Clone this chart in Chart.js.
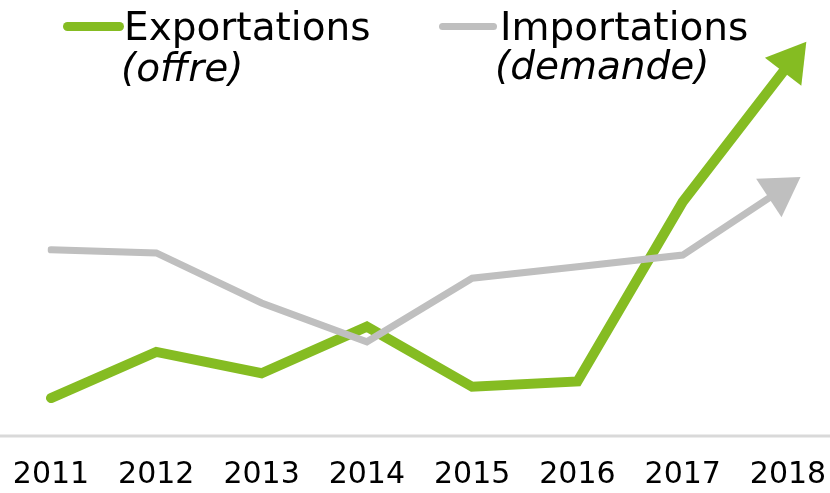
<!DOCTYPE html>
<html>
<head>
<meta charset="utf-8">
<script src="https://cdn.jsdelivr.net/npm/chart.js@4"></script>
<style>
  html, body { margin: 0; padding: 0; background: #fff; }
  #wrap { position: relative; width: 830px; height: 493px; font-family: "DejaVu Sans", sans-serif; }
  canvas { position: absolute; left: 0; top: 0; }
  .leg { position: absolute; font-size: 39px; line-height: 40px; color: #000; white-space: nowrap; }
  .leg i { font-style: italic; }
  .swatch { position: absolute; border-radius: 5px; }
</style>
</head>
<body>
<div id="wrap">
  <canvas id="chart" width="830" height="493"></canvas>
  <div class="swatch" style="left:63px;top:22px;width:61px;height:9px;background:#85BC22"></div>
  <div class="leg" style="left:124px;top:7px">Exportations</div>
  <div class="leg" style="left:121px;top:48px"><i>(offre)</i></div>
  <div class="swatch" style="left:439px;top:23px;width:58px;height:7px;background:#BFBFBF"></div>
  <div class="leg" style="left:500px;top:7px">Importations</div>
  <div class="leg" style="left:495px;top:46px"><i>(demande)</i></div>
</div>
<script>
// donnees (echelle arbitraire 0-100)
const annees = ["2011", "2012", "2013", "2014", "2015", "2016", "2017", "2018"];
const exportations = [8.7, 19.3, 14.4, 25.1, 11.3, 12.5, 53.7, 85.0];
const importations = [42.7, 42.0, 30.5, 21.6, 36.2, 38.8, 41.5, 57.5];

const VERT = "#85BC22";
const GRIS = "#BFBFBF";

// fleche au bout de chaque serie + ligne de base
const flechePlugin = {
    id: "fleche",
    beforeDatasetsDraw(chart) {
        const { ctx, scales } = chart;
        const y0 = scales.y.getPixelForValue(0);
        ctx.save();
        ctx.strokeStyle = "#D9D9D9";
        ctx.lineWidth = 3;
        ctx.beginPath();
        ctx.moveTo(0, y0);
        ctx.lineTo(chart.width, y0);
        ctx.stroke();
        ctx.restore();
    },
    afterDatasetsDraw(chart) {
        const ctx = chart.ctx;
        chart.data.datasets.forEach((ds, i) => {
            const pts = chart.getDatasetMeta(i).data;
            const a = pts[pts.length - 2], b = pts[pts.length - 1];
            const ang = Math.atan2(b.y - a.y, b.x - a.x);
            const tipX = b.x + Math.cos(ang) * ds.tipExtend;
            const tipY = b.y + Math.sin(ang) * ds.tipExtend;
            const len = 38, half = 23;
            const bx = tipX - Math.cos(ang) * len;
            const by = tipY - Math.sin(ang) * len;
            ctx.save();
            ctx.fillStyle = ds.borderColor;
            ctx.beginPath();
            ctx.moveTo(tipX, tipY);
            ctx.lineTo(bx + Math.sin(ang) * half, by - Math.cos(ang) * half);
            ctx.lineTo(bx - Math.sin(ang) * half, by + Math.cos(ang) * half);
            ctx.closePath();
            ctx.fill();
            ctx.restore();
        });
    }
};

new Chart(document.getElementById("chart"), {
    type: "line",
    data: {
        labels: annees,
        datasets: [
            {
                label: "Importations (demande)",
                data: importations,
                borderColor: GRIS,
                borderWidth: 7,
                tipExtend: 15,
            },
            {
                label: "Exportations (offre)",
                data: exportations,
                borderColor: VERT,
                borderWidth: 10,
                tipExtend: 30,
            },
        ],
    },
    options: {
        responsive: false,
        animation: false,
        layout: {
            padding: { left: 51, right: 42, top: 0, bottom: 0 },
        },
        elements: {
            line: { tension: 0, borderCapStyle: "round", borderJoinStyle: "miter" },
            point: { radius: 0, hoverRadius: 0 },
        },
        plugins: {
            legend: { display: false },
            tooltip: { enabled: false },
        },
        scales: {
            x: {
                offset: false,
                grid: { display: false, drawTicks: false },
                border: { display: false },
                ticks: {
                    color: "#000",
                    padding: 21,
                    maxRotation: 0,
                    autoSkip: false,
                    font: { family: "DejaVu Sans", size: 30, lineHeight: 1.2 },
                },
                afterFit(scale) {
                    scale.height = 57;
                    scale.paddingLeft = 0;
                    scale.paddingRight = 0;
                },
            },
            y: {
                display: false,
                min: 0,
                max: 100,
            },
        },
    },
    plugins: [flechePlugin],
});
</script>
</body>
</html>
